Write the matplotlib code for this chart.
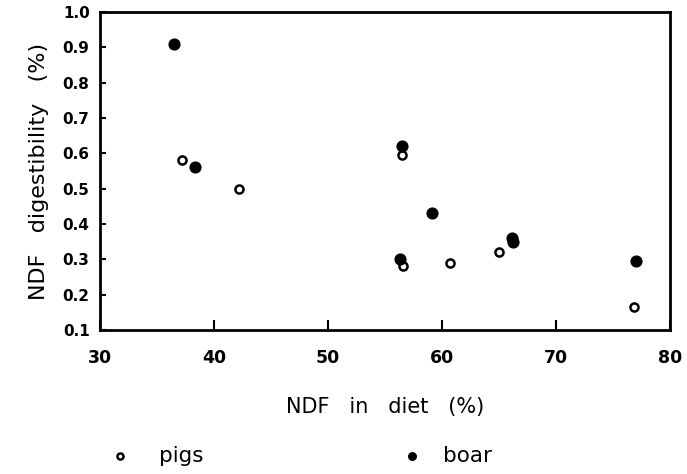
import matplotlib
matplotlib.use("Agg")
import matplotlib.pyplot as plt

pigs_x = [37.2, 42.2, 56.5, 56.6, 60.7, 65.0, 76.8]
pigs_y = [0.58, 0.50, 0.595, 0.28, 0.29, 0.32, 0.165]
boar_x = [36.5, 38.3, 56.45, 56.3, 59.1, 66.1, 66.2, 77.0]
boar_y = [0.91, 0.56, 0.62, 0.30, 0.43, 0.36, 0.35, 0.295]

xticks = [30, 40, 50, 60, 70, 80]
yticks = [0.1, 0.2, 0.3, 0.4, 0.5, 0.6, 0.7, 0.8, 0.9, 1.0]

plt.rcParams['font.family'] = ['DejaVu Sans']
fig = plt.figure(figsize=(6.87, 4.74), dpi=100)
ax = fig.add_axes([0.1456, 0.3038, 0.8297, 0.6709])

sp_open = ax.scatter(pigs_x, pigs_y, s=34, facecolors='white', edgecolors='black',
                     linewidths=1.8, label='pigs', zorder=3)
sp_fill = ax.scatter(boar_x, boar_y, s=60, facecolors='black', edgecolors='black',
                     linewidths=1, label='boar', zorder=4)

ax.set_xlim(30, 80)
ax.set_ylim(0.1, 1.0)
ax.set_xticks(xticks)
ax.set_xticklabels([str(t) for t in xticks], fontsize=12.5, fontweight='bold')
ax.set_yticks(yticks)
ax.set_yticklabels([f"{t:.1f}" for t in yticks], fontsize=11, fontweight='bold')
ax.tick_params(axis='x', direction='in', length=7, width=1.5, pad=14)
ax.tick_params(axis='y', direction='in', length=4, width=1.5, pad=7.5)
for sp in ax.spines.values():
    sp.set_linewidth(2)

ax.set_xlabel('NDF   in   diet   (%)', fontsize=15)
ax.xaxis.set_label_coords(0.5, -0.21)
ax.set_ylabel('NDF   digestibility   (%)', fontsize=16)
ax.yaxis.set_label_coords(-0.0895, 0.5)

leg1 = fig.legend([sp_open], ['pigs'], loc='center left', bbox_to_anchor=(109 / 687, 0.038),
                  frameon=False, fontsize=15.5, handlelength=1.0, handletextpad=1.3,
                  borderpad=0, borderaxespad=0, markerscale=0.75)
leg2 = fig.legend([sp_fill], ['boar'], loc='center left', bbox_to_anchor=(401 / 687, 0.038),
                  frameon=False, fontsize=15.5, handlelength=1.0, handletextpad=0.95,
                  borderpad=0, borderaxespad=0, markerscale=0.7)

fig.savefig('out.png', dpi=100)
